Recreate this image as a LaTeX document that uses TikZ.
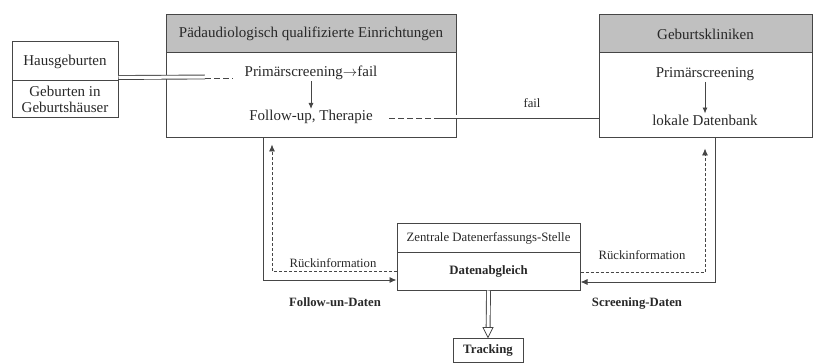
\documentclass[tikz,border=0pt]{standalone}
\usepackage{fontspec}
\setmainfont{Liberation Serif}
\usetikzlibrary{arrows.meta,calc}
\definecolor{linec}{RGB}{70,70,70}
\definecolor{txt}{RGB}{40,40,40}
\definecolor{hdr}{RGB}{192,192,192}
\begin{document}
\begin{tikzpicture}[x=1pt,y=-1pt,
  boxs/.style={draw=linec, line width=1pt, inner sep=0pt, text=txt, font=\fontsize{15}{16}\selectfont},
  zbox/.style={draw=linec, line width=1pt, inner sep=0pt, text=txt, font=\fontsize{12.8}{14}\selectfont},
  txtn/.style={inner sep=1pt, text=txt, font=\fontsize{15}{16}\selectfont},
  lbl/.style={inner sep=1pt, text=txt, font=\fontsize{12.7}{14}\selectfont},
  lblb/.style={inner sep=1pt, text=txt, font=\fontsize{12.7}{14}\selectfont\bfseries},
  inarrow/.style={draw=linec, line width=0.9pt, -{Latex[length=6pt,width=5pt]}},
  solidc/.style={draw=linec, line width=0.9pt, -{Latex[length=7pt,width=6pt]}},
  dashc/.style={draw=linec, line width=0.8pt, dash pattern=on 3pt off 2pt, -{Latex[length=7pt,width=6pt]}},
  dbl/.style={draw=linec, line width=0.9pt, double=white, double distance=3pt},
  dbldash/.style={dbl, dash pattern=on 6pt off 3pt},
]
\useasboundingbox (0,0) rectangle (813,363);

% Paedaudiologisch
\node[boxs, fill=hdr, minimum width=290pt, minimum height=38pt] (ph) at (311,34) {Pädaudiologisch qualifizierte Einrichtungen};
\node[boxs, minimum width=290pt, minimum height=85pt] (pb) at (311,95.5) {};
\node[txtn] (ps) at (311,73) {Primärscreening$\rightarrow$fail};
\node[txtn] (fu) at (311,117) {Follow-up, Therapie};
\draw[inarrow] (ps) -- (fu);

% Geburtskliniken
\node[boxs, fill=hdr, minimum width=213pt, minimum height=38pt] (gh) at (705.5,34) {Geburtskliniken};
\node[boxs, minimum width=213pt, minimum height=85pt] (gb) at (705.5,95.5) {};
\node[txtn] (gs) at (705,74) {Primärscreening};
\node[txtn] (ld) at (705,120) {lokale Datenbank};
\draw[inarrow] (gs) -- (ld);

% Hausgeburten
\node[boxs, minimum width=106pt, minimum height=39pt] (ha) at (65,61.5) {Hausgeburten};
\node[boxs, minimum width=106pt, minimum height=37pt, align=center] (gg) at (65,99.5) {Geburten in\\Geburtshäuser};

% Zentrale
\node[zbox, minimum width=183pt, minimum height=28pt] (zt) at (488.5,238) {Zentrale Datenerfassungs-Stelle};
\node[zbox, minimum width=183pt, minimum height=38pt, font=\fontsize{12.8}{14}\selectfont\bfseries] (zb) at (488.5,271) {Datenabgleich};
\node[zbox, minimum width=70pt, minimum height=24pt, font=\fontsize{12.8}{14}\selectfont\bfseries] (tr) at (488,350) {Tracking};

% Hausgeburten -> Paed
\coordinate (hj) at (205,77);
\coordinate (he) at (233,77);
\draw[dbl] ([yshift=4pt]ha.south east) -- (hj);
\draw[dbldash] (hj) -- (he);

% fail connector
\coordinate (fj) at (440,117);
\coordinate (fe) at (388,117);
\draw[dbl] (gb.west |- fj) -- (fj);
\draw[dbldash] (fj) -- (fe);
\node[lbl] (fl) at (532,103) {fail};

% left connectors
\draw[solidc] ([xshift=-48pt]pb.south) |- ([yshift=-9pt]zb.west);
\draw[dashc, shorten >=6pt] (zb.west) -| ([xshift=-39pt]pb.south);
% right connectors
\draw[solidc] ([xshift=9.5pt]gb.south) |- ([yshift=-11pt]zb.east);
\draw[dashc, shorten >=10pt] ([yshift=-1pt]zb.east) -| ([xshift=-0.5pt]gb.south);

% labels
\node[lbl] (r1) at (333,263) {Rückinformation};
\node[lbl] (r2) at (642,255) {Rückinformation};
\node[lblb] (fd) at (335,302) {Follow-un-Daten};
\node[lblb] (sd) at (637,303) {Screening-Daten};

% Zentrale -> Tracking
\draw[dbl, shorten >=9pt] (zb.south) -- (tr.north);
\draw[draw=linec, line width=0.8pt, fill=white, line join=miter] ([xshift=-5pt,yshift=10pt]tr.north) -- (tr.north) -- ([xshift=5pt,yshift=10pt]tr.north) -- cycle;
\end{tikzpicture}
\end{document}
